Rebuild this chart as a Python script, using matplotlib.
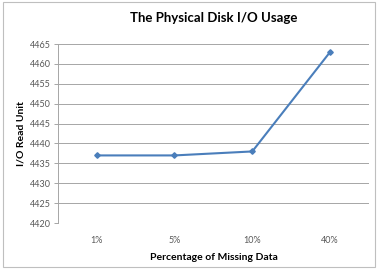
import matplotlib

matplotlib.use("Agg")
import matplotlib.pyplot as plt
from matplotlib.patches import Rectangle

# Data
categories = ["1%", "5%", "10%", "40%"]
io_read = [4437, 4437, 4438, 4463]
y_ticks = list(range(4420, 4466, 5))

LINE = "#4a7ebb"
GRID = "#a6a6a6"
TICK = "#595959"

plt.rcParams["font.family"] = ["Lato", "DejaVu Sans"]

fig = plt.figure(figsize=(3.78, 2.69), dpi=100)
ax = fig.add_axes([0.153, 0.171, 0.823, 0.665])

x = range(len(categories))
ax.plot(x, io_read, color=LINE, lw=1.5, marker="D", ms=2.8, zorder=3)

ax.set_xlim(-0.5, len(categories) - 0.5)
ax.set_ylim(y_ticks[0], y_ticks[-1])
ax.set_yticks(y_ticks)
ax.set_xticks(list(x))
ax.set_xticklabels(categories)
ax.grid(axis="y", color=GRID, lw=0.7)
ax.set_axisbelow(True)
ax.tick_params(axis="x", length=0, pad=9, labelsize=6.5, colors=TICK)
ax.tick_params(axis="y", length=3, pad=2, labelsize=6.5, colors=TICK,
               color=GRID, width=0.7)

for side in ("top", "right", "bottom"):
    ax.spines[side].set_visible(False)
ax.spines["left"].set_color(GRID)
ax.spines["left"].set_linewidth(0.7)

ax.set_title("The Physical Disk I/O Usage", fontsize=9.5, fontweight="bold",
             pad=16)
ax.set_xlabel("Percentage of Missing Data", fontsize=7.5, fontweight="bold",
              labelpad=6)
ax.set_ylabel("I/O Read Unit", fontsize=7.5, fontweight="bold", labelpad=3)

# outer chart border
fig.patches.append(Rectangle((0.008, 0.006), 0.985, 0.988, transform=fig.transFigure,
                             fill=False, edgecolor="#bfbfbf", lw=0.8))

fig.savefig("out.png", dpi=100)
